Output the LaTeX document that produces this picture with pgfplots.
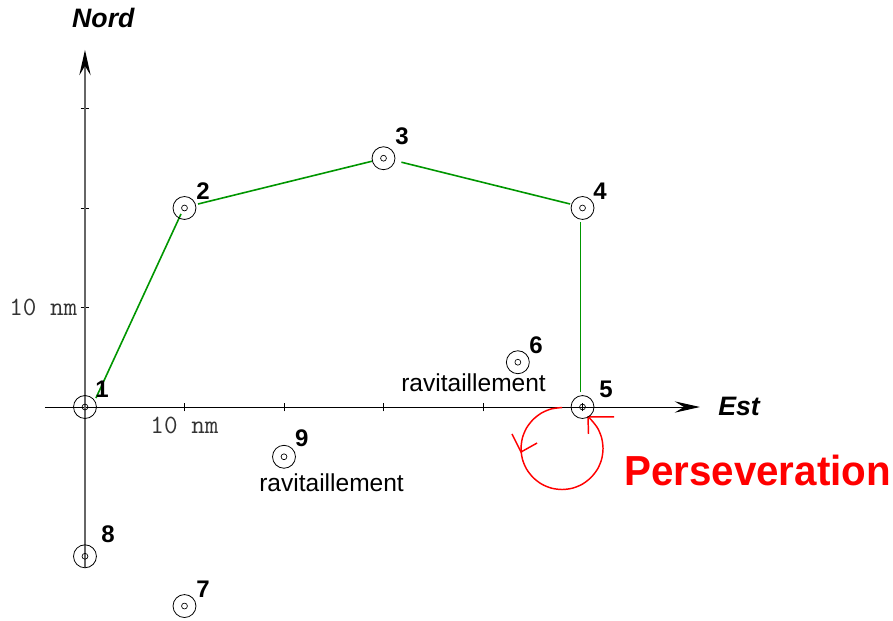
\documentclass[border=0pt]{standalone}
\usepackage{fontspec}
\setmainfont{Liberation Sans}
\usepackage{pgfplots}
\pgfplotsset{compat=1.18}
\usetikzlibrary{arrows.meta}
\definecolor{route}{RGB}{0,150,0}
\newcommand{\num}[3]{\node[anchor=base,font=\fontsize{18}{20}\selectfont\bfseries,inner sep=0pt] at (axis cs:#1,#2) {#3};}
\pgfplotstableread{
x y
0 0
10 20
30 25
50 20
50 0
43.5 4.5
10 -20
0 -15
20 -5
}\waypoints
\begin{document}
\begin{tikzpicture}
\begin{axis}[
  scale only axis, width=491.2pt, height=387.8pt,
  xmin=-4.02, xmax=61.8, ymin=-16.08, ymax=35.88,
  axis lines=middle, clip=false,
  xtick={10,20,30,40,50}, ytick={10,20,30},
  xticklabels={10 nm,,,,}, yticklabels={10 nm,,},
  tick align=center, major tick length=6.5pt,
  tick style={black, line width=0.5pt},
  ticklabel style={font=\fontsize{19.8}{21}\selectfont\ttfamily, text=black!80},
  x axis line style={line width=0.75pt, black, -{Stealth[length=19pt,width=8.5pt,inset=7pt]}},
  y axis line style={line width=1pt, black!60, -{Stealth[length=19pt,width=8.5pt,inset=7pt,black]}},
  xticklabel style={yshift=-1pt}, yticklabel style={xshift=1pt},
]
% route
\addplot[route, line width=1.2pt, forget plot] coordinates {(1.1,0.9) (9.65,19.4)};
\addplot[route, line width=1.2pt, forget plot] coordinates {(11.36,20.4) (28.85,24.7)};
\addplot[route, line width=1.2pt, forget plot] coordinates {(31.8,24.6) (48.75,20.4)};
\addplot[route, line width=1.2pt, forget plot] coordinates {(49.8,18.6) (49.8,1.5)};
% waypoints
\addplot[only marks, mark=o, mark size=8.6pt, mark options={black, line width=0.6pt}] table[x=x,y=y] {\waypoints};
\addplot[only marks, mark=o, mark size=2.2pt, mark options={black, line width=0.5pt}] table[x=x,y=y] {\waypoints};
% perseveration loop
\addplot[red, line width=1.1pt, smooth, forget plot] coordinates {
  (47.94,-0.05) (46.87,-0.19) (45.88,-0.60) (45.03,-1.26) (44.37,-2.11) (43.96,-3.10)
  (43.82,-4.17) (43.96,-5.24) (44.37,-6.23) (45.03,-7.08) (45.88,-7.74) (46.87,-8.15)
  (47.94,-8.29) (49.01,-8.15) (50.00,-7.74) (50.85,-7.08) (51.51,-6.23) (51.92,-5.24)
  (52.06,-4.17) (51.92,-3.10) (51.51,-2.11) (50.85,-1.26) (50.59,-1.01)};
\addplot[red, line width=1.1pt, forget plot] coordinates {(53.17,-1.0) (50.55,-1.0) (50.6,-2.71)};
\addplot[red, line width=1.1pt, forget plot] coordinates {(42.91,-2.71) (43.82,-4.52) (45.43,-3.62)};
% labels
\num{1.71}{1.0}{1}
\num{11.86}{20.9}{2}
\num{31.86}{26.4}{3}
\num{51.76}{20.9}{4}
\num{52.36}{1.0}{5}
\num{45.33}{5.4}{6}
\num{11.86}{-19.1}{7}
\num{2.31}{-13.6}{8}
\num{21.8}{-4.0}{9}
\node[anchor=base west,inner sep=0pt,font=\fontsize{20}{22}\selectfont\bfseries\itshape] at (axis cs:-1.31,38.09) {Nord};
\node[anchor=base west,inner sep=0pt,font=\fontsize{20}{22}\selectfont\bfseries\itshape] at (axis cs:63.62,-0.90) {Est};
\node[anchor=base west,inner sep=0pt,text=red,xscale=0.96,font=\fontsize{31.5}{33}\selectfont\bfseries] at (axis cs:54.17,-7.9) {Perseveration};
\node[anchor=base west,inner sep=0pt,font=\fontsize{18.4}{20}\selectfont] at (axis cs:31.76,1.55) {ravitaillement};
\node[anchor=base west,inner sep=0pt,font=\fontsize{18.4}{20}\selectfont] at (axis cs:17.49,-8.5) {ravitaillement};
% page extent
\path (axis cs:-8.54,40.9) (axis cs:81.2,-21.5);
\end{axis}
\end{tikzpicture}
\end{document}
